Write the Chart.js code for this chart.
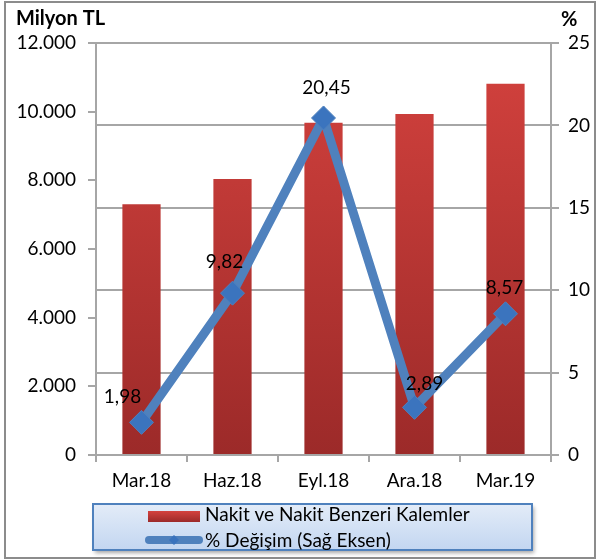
<!DOCTYPE html>
<html>
<head>
<meta charset="utf-8">
<script src="https://cdn.jsdelivr.net/npm/chart.js@4"></script>
<style>
  html, body { margin: 0; padding: 0; background: #fff; }
  #wrap { position: relative; width: 597px; height: 560px; }
  #frame { position: absolute; left: 4px; top: 1px; width: 588px; height: 554px; border: 2px solid #8c8c8c; box-sizing: content-box; }
  canvas { position: absolute; left: 0; top: 0; }
</style>
</head>
<body>
<div id="wrap">
  <div id="frame"></div>
  <canvas id="myChart" width="597" height="560"></canvas>
</div>
<script>
const labels = ['Mar.18', 'Haz.18', 'Eyl.18', 'Ara.18', 'Mar.19'];
const cashValues = [7300, 8040, 9680, 9930, 10810];
const changeValues = [1.98, 9.82, 20.45, 2.89, 8.57];
const leftTicks = [0, 2000, 4000, 6000, 8000, 10000, 12000];
const rightTicks = [0, 5, 10, 15, 20, 25];

const FONT = 'Lato, "Open Sans", sans-serif';
const FS = 19;
const GRID = '#a6a6a6';

// small nudges for the value labels, like in the original sheet
const labelNudge = [[-19, -25], [-8, -31], [3, -30], [10, -23], [-1, -26]];

const ctx = document.getElementById('myChart');

function barGradient(context) {
  const area = context.chart.chartArea;
  if (!area) return '#c0393b';
  const g = context.chart.ctx.createLinearGradient(0, area.top, 0, area.bottom);
  g.addColorStop(0, '#d4423e');
  g.addColorStop(1, '#9c2a29');
  return g;
}

const fixWidth = (w) => (scale) => {
  scale.width = w;
  scale.paddingTop = 0;
  scale.paddingBottom = 0;
};

const valueLabels = {
  id: 'valueLabels',
  afterDatasetsDraw(chart) {
    const meta = chart.getDatasetMeta(1);
    const c = chart.ctx;
    c.save();
    c.font = FS + 'px ' + FONT;
    c.fillStyle = '#000';
    c.textAlign = 'center';
    c.textBaseline = 'middle';
    meta.data.forEach((pt, i) => {
      const txt = changeValues[i].toFixed(2).replace('.', ',');
      c.fillText(txt, pt.x + labelNudge[i][0], pt.y + labelNudge[i][1]);
    });
    c.restore();
  }
};

const extras = {
  id: 'extras',
  afterDraw(chart) {
    const c = chart.ctx;
    c.save();
    // axis titles
    c.font = 'bold 20px ' + FONT;
    c.fillStyle = '#000';
    c.textBaseline = 'middle';
    c.textAlign = 'left';
    c.fillText('Milyon TL', 16, 19);
    c.fillText('%', 561, 20);

    // legend box
    const x = 93, y = 504, w = 439, h = 46;
    c.shadowColor = 'rgba(0,0,0,0.35)';
    c.shadowOffsetX = 2;
    c.shadowOffsetY = 3;
    c.shadowBlur = 4;
    const g = c.createLinearGradient(0, y, 0, y + h);
    g.addColorStop(0, '#e3ecf8');
    g.addColorStop(1, '#c3d6f1');
    c.fillStyle = g;
    c.fillRect(x, y, w, h);
    c.shadowColor = 'transparent';
    c.lineWidth = 2;
    c.strokeStyle = '#4f81bd';
    c.strokeRect(x, y, w, h);

    // bar swatch
    const sg = c.createLinearGradient(0, 511, 0, 522);
    sg.addColorStop(0, '#d4423e');
    sg.addColorStop(1, '#9c2a29');
    c.fillStyle = sg;
    c.fillRect(148, 511, 52, 11);
    // line swatch
    c.strokeStyle = '#4f81bd';
    c.lineWidth = 8;
    c.lineCap = 'round';
    c.beginPath();
    c.moveTo(149, 540);
    c.lineTo(199, 540);
    c.stroke();
    c.fillStyle = '#3a73bd';
    c.beginPath();
    c.moveTo(174, 535); c.lineTo(179, 540); c.lineTo(174, 545); c.lineTo(169, 540);
    c.closePath();
    c.fill();

    c.font = FS + 'px ' + FONT;
    c.fillStyle = '#000';
    c.fillText('Nakit ve Nakit Benzeri Kalemler', 205, 515);
    c.fillText('% Değişim (Sağ Eksen)', 205, 541);
    c.restore();
  }
};

const data = {
  labels: labels,
  datasets: [{
    type: 'bar',
    label: 'Nakit ve Nakit Benzeri Kalemler',
    data: cashValues,
    backgroundColor: barGradient,
    borderWidth: 0,
    barPercentage: 1,
    categoryPercentage: 0.42,
    yAxisID: 'y',
    order: 2
  }, {
    type: 'line',
    label: '% Değişim (Sağ Eksen)',
    data: changeValues,
    borderColor: '#4f81bd',
    borderWidth: 9,
    pointStyle: 'rectRot',
    pointRadius: 12,
    pointHoverRadius: 12,
    pointBackgroundColor: '#3b74be',
    pointBorderColor: '#4f81bd',
    pointBorderWidth: 1,
    tension: 0,
    yAxisID: 'y1',
    order: 1
  }]
};

const config = {
  data: data,
  plugins: [valueLabels, extras],
  options: {
    responsive: false,
    animation: false,
    layout: { padding: { top: 43, bottom: 55, left: 0, right: 0 } },
    plugins: {
      legend: { display: false },
      tooltip: { enabled: false }
    },
    scales: {
      x: {
        offset: true,
        grid: { offset: true, drawOnChartArea: false, tickLength: 7, color: GRID, lineWidth: 2 },
        border: { color: GRID, width: 2 },
        ticks: { font: { family: FONT, size: FS }, color: '#000', padding: 7 },
        afterFit: (scale) => { scale.height = 50; scale.paddingLeft = 0; scale.paddingRight = 0; }
      },
      y: {
        position: 'left',
        min: 0,
        max: 12000,
        afterBuildTicks: (scale) => { scale.ticks = leftTicks.map(v => ({ value: v })); },
        grid: { drawOnChartArea: false, tickLength: 8, color: GRID, lineWidth: 2 },
        border: { color: GRID, width: 2 },
        ticks: {
          font: { family: FONT, size: FS },
          color: '#000',
          padding: 12,
          callback: (v) => v.toString().replace(/\B(?=(\d{3})+(?!\d))/g, '.')
        },
        afterFit: fixWidth(96)
      },
      y1: {
        position: 'right',
        min: 0,
        max: 25,
        afterBuildTicks: (scale) => { scale.ticks = rightTicks.map(v => ({ value: v })); },
        grid: { drawOnChartArea: true, tickLength: 8, color: GRID, lineWidth: 2 },
        border: { color: GRID, width: 2 },
        ticks: { font: { family: FONT, size: FS }, color: '#000', padding: 9 },
        afterFit: fixWidth(46)
      }
    }
  }
};

new Chart(ctx, config);
</script>
</body>
</html>
